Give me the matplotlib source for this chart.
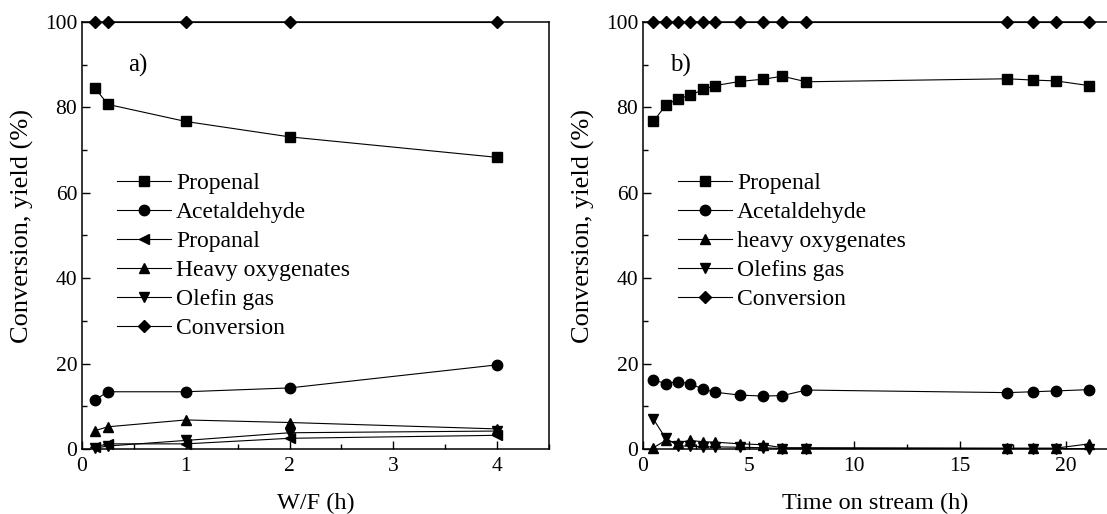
import numpy as np
import matplotlib
matplotlib.use("Agg")
import matplotlib.pyplot as plt
from matplotlib.ticker import MultipleLocator

plt.rcParams['font.family'] = ['Liberation Serif', 'DejaVu Serif']
plt.rcParams['mathtext.fontset'] = 'stix'

# panel a: W/F sweep
wf = [0.125, 0.25, 1, 2, 4]
a_propenal = [84.5, 80.7, 76.7, 73.1, 68.3]
a_acetaldehyde = [11.5, 13.4, 13.4, 14.3, 19.7]
a_propanal = [0.5, 1.2, 1.2, 2.5, 3.2]
a_heavy = [4.3, 5.2, 6.8, 6.2, 4.7]
a_olefin = [0.2, 0.7, 2.0, 3.8, 4.2]
a_conversion = [100, 100, 100, 100, 100]

# panel b: time on stream
tos = [0.49, 1.07, 1.64, 2.22, 2.85, 3.40, 4.61, 5.68, 6.59, 7.72, 17.23, 18.46, 19.54, 21.11]
b_propenal = [76.7, 80.5, 82.0, 82.8, 84.2, 85.1, 86.1, 86.6, 87.3, 86.0, 86.7, 86.4, 86.2, 85.1]
b_acetaldehyde = [16.2, 15.3, 15.8, 15.3, 14.0, 13.3, 12.6, 12.4, 12.5, 13.8, 13.2, 13.4, 13.6, 13.9]
b_heavy = [0.3, 2.0, 1.5, 2.0, 1.7, 1.6, 1.2, 1.0, 0.3, 0.3, 0.2, 0.2, 0.2, 1.2]
b_olefin = [7.0, 2.5, 0.8, 0.6, 0.5, 0.5, 0.4, 0.3, 0.1, 0.1, 0.1, 0.1, 0.1, 0.1]
b_conversion = [100] * 14

fig = plt.figure(figsize=(11.07, 5.14), dpi=100)
ax1 = fig.add_axes([0.0741, 0.1265, 0.4218, 0.8307])
ax2 = fig.add_axes([0.5809, 0.1265, 0.4200, 0.8307])

style = dict(color='black', linewidth=0.8, markersize=7.5, clip_on=False)

ax1.plot(wf, a_propenal, marker='s', label='Propenal', **style)
ax1.plot(wf, a_acetaldehyde, marker='o', label='Acetaldehyde', **style)
ax1.plot(wf, a_propanal, marker='<', label='Propanal', **style)
ax1.plot(wf, a_heavy, marker='^', label='Heavy oxygenates', **style)
ax1.plot(wf, a_olefin, marker='v', label='Olefin gas', **style)
ax1.plot(wf, a_conversion, marker='D', label='Conversion', **dict(style, markersize=6.5))

ax2.plot(tos, b_propenal, marker='s', label='Propenal', **style)
ax2.plot(tos, b_acetaldehyde, marker='o', label='Acetaldehyde', **style)
ax2.plot(tos, b_heavy, marker='^', label='heavy oxygenates', **style)
ax2.plot(tos, b_olefin, marker='v', label='Olefins gas', **style)
ax2.plot(tos, b_conversion, marker='D', label='Conversion', **dict(style, markersize=6.5))

ax1.set_xlim(0, 4.5)
ax2.set_xlim(0, 22)
ax1.xaxis.set_major_locator(MultipleLocator(1))
ax1.xaxis.set_minor_locator(MultipleLocator(0.5))
ax2.xaxis.set_major_locator(MultipleLocator(5))
ax2.xaxis.set_minor_locator(MultipleLocator(2.5))
ax1.set_xlabel('W/F (h)', fontsize=17.5, labelpad=12)
ax2.set_xlabel('Time on stream (h)', fontsize=17.5, labelpad=12)

for ax, tag, tx in [(ax1, 'a)', 0.44), (ax2, 'b)', 1.3)]:
    ax.set_ylim(0, 100)
    ax.yaxis.set_major_locator(MultipleLocator(20))
    ax.yaxis.set_minor_locator(MultipleLocator(10))
    ax.tick_params(which='both', direction='in', labelsize=15.5, width=1.0)
    ax.tick_params(which='major', length=6)
    ax.tick_params(which='minor', length=3.5)
    ax.tick_params(axis='x', pad=6)
    for s in ax.spines.values():
        s.set_linewidth(1.1)
    ax.set_ylabel('Conversion, yield (%)', fontsize=19)
    ax.yaxis.set_label_coords(-0.103, 0.522)
    ax.text(tx, 88.5, tag, fontsize=18)
    ax.legend(loc='upper left', bbox_to_anchor=(0.055, 0.67), frameon=False,
              fontsize=17, handlelength=2.3, handletextpad=0.2, labelspacing=0.32,
              borderaxespad=0)

fig.savefig('out.png', dpi=100)
